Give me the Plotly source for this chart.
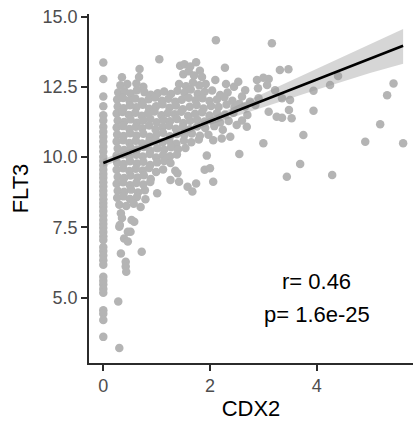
import plotly.graph_objects as go

# ---- expression values (CDX2 vs FLT3), one entry per sample ----
# samples with zero CDX2 expression
cdx2_zero = [0.0] * 47
flt3_zero = [13.36, 12.78, 12.15, 11.81, 11.49, 11.30, 11.08, 10.90, 10.72, 10.55,
             10.37, 10.20, 10.01, 9.86, 9.70, 9.55, 9.40, 9.26, 9.10, 8.95,
             8.80, 8.66, 8.50, 8.36, 8.23, 8.08, 7.92, 7.76, 7.62, 7.48,
             7.33, 7.18, 7.05, 6.80, 6.66, 6.50, 6.33, 6.17, 5.74, 5.60,
             5.46, 5.30, 5.17, 4.55, 4.42, 4.20, 3.60]

# samples with CDX2 expression (main cloud)
cdx2_main = [
    0.32, 0.45, 0.62, 0.75, 1.42, 1.55, 1.68, 1.80, 1.92, 2.30, 2.45,
    0.28, 0.40, 0.51, 0.63, 0.77, 0.89, 1.02, 1.14, 1.27, 1.39, 1.52, 1.64, 1.77, 1.90, 2.04, 2.19, 2.33,
    0.26, 0.37, 0.49, 0.60, 0.72, 0.85, 0.97, 1.10, 1.22, 1.35, 1.47, 1.60, 1.73, 1.86, 1.99, 2.13, 2.27, 2.42,
    0.27, 0.38, 0.50, 0.62, 0.74, 0.86, 0.99, 1.11, 1.24, 1.36, 1.49, 1.62, 1.75, 1.88, 2.02, 2.16, 2.31, 2.46,
    0.25, 0.36, 0.48, 0.60, 0.72, 0.84, 0.96, 1.09, 1.21, 1.34, 1.46, 1.59, 1.72, 1.85, 1.99, 2.13, 2.28, 2.44,
    0.27, 0.39, 0.51, 0.63, 0.75, 0.88, 1.00, 1.13, 1.25, 1.38, 1.50, 1.63, 1.76, 1.90, 2.04, 2.19, 2.35,
    0.25, 0.37, 0.49, 0.61, 0.73, 0.86, 0.98, 1.11, 1.23, 1.36, 1.49, 1.62, 1.76, 1.91, 2.08, 2.24,
    0.26, 0.38, 0.50, 0.62, 0.75, 0.87, 1.00, 1.12, 1.25, 1.38, 1.52, 1.66, 1.81, 1.97,
    0.25, 0.37, 0.49, 0.61, 0.73, 0.86, 0.98, 1.11, 1.24, 1.37, 1.51, 1.65, 1.79,
    0.27, 0.39, 0.51, 0.63, 0.76, 0.88, 1.01, 1.14, 1.27, 1.40, 1.54,
    0.25, 0.37, 0.49, 0.62, 0.74, 0.87, 0.99, 1.12, 1.25, 1.38,
    0.26, 0.38, 0.50, 0.63, 0.75, 0.88, 1.01, 1.14,
    0.25, 0.37, 0.49, 0.61, 0.74, 0.86, 0.99, 1.12,
    0.27, 0.39, 0.51, 0.64, 0.76, 0.89,
    0.25, 0.37, 0.50, 0.62, 0.75, 0.88,
    0.27, 0.39, 0.52, 0.65, 0.78,
    0.26, 0.38, 0.50, 0.63, 0.79,
    0.30, 0.43, 0.57, 0.70,
]
flt3_main = [
    12.55, 12.60, 12.62, 12.50, 12.60, 12.52, 12.65, 12.55, 12.60, 12.60, 12.50,
    12.30, 12.34, 12.26, 12.38, 12.31, 12.22, 12.27, 12.33, 12.24, 12.36, 12.29, 12.40, 12.25, 12.32, 12.37, 12.21, 12.30,
    12.05, 12.10, 12.01, 12.08, 11.98, 12.06, 12.12, 12.00, 12.07, 11.97, 12.04, 12.11, 12.02, 12.09, 11.99, 12.05, 12.13, 12.00,
    11.80, 11.74, 11.84, 11.77, 11.86, 11.72, 11.81, 11.88, 11.75, 11.83, 11.70, 11.79, 11.85, 11.73, 11.82, 11.78, 11.87, 11.76,
    11.55, 11.60, 11.50, 11.58, 11.47, 11.56, 11.62, 11.49, 11.57, 11.52, 11.61, 11.46, 11.54, 11.59, 11.48, 11.56, 11.51, 11.58,
    11.30, 11.25, 11.34, 11.22, 11.31, 11.36, 11.24, 11.32, 11.27, 11.35, 11.21, 11.29, 11.33, 11.26, 11.30, 11.23, 11.28,
    11.05, 11.10, 11.00, 11.08, 11.02, 11.12, 10.98, 11.06, 11.11, 11.01, 11.07, 10.99, 11.09, 11.03, 11.10, 10.97,
    10.80, 10.75, 10.85, 10.77, 10.83, 10.72, 10.81, 10.86, 10.74, 10.82, 10.78, 10.84, 10.76, 10.79,
    10.55, 10.60, 10.50, 10.58, 10.48, 10.56, 10.61, 10.52, 10.57, 10.47, 10.59, 10.53, 10.62,
    10.30, 10.25, 10.34, 10.27, 10.36, 10.22, 10.31, 10.26, 10.35, 10.28, 10.32,
    10.05, 10.10, 10.00, 10.08, 10.02, 10.11, 9.98, 10.06, 10.03, 10.09,
    9.80, 9.75, 9.85, 9.77, 9.83, 9.72, 9.81, 9.86,
    9.55, 9.60, 9.50, 9.58, 9.52, 9.61, 9.47, 9.56,
    9.30, 9.25, 9.34, 9.27, 9.35, 9.22,
    9.05, 9.10, 9.00, 9.08, 9.02, 9.11,
    8.80, 8.76, 8.84, 8.74, 8.82,
    8.55, 8.60, 8.51, 8.58, 8.50,
    8.30, 8.26, 8.34, 8.22,
]

# samples scattered outside the main cloud
cdx2_spread = [
    0.35, 0.67, 0.68, 1.05, 1.44, 1.52, 1.63, 1.74, 1.81, 1.50, 1.60, 1.70, 1.85,
    2.10, 2.28, 2.53, 2.88, 3.00, 3.10, 3.31, 3.47, 2.11, 3.16,
    2.66, 2.90, 3.22, 3.07, 3.94, 4.25, 4.40, 5.44, 5.32, 2.60, 2.91, 3.35, 3.50,
    2.75, 2.55, 2.66, 2.85, 3.10, 3.94, 2.70, 3.25, 3.48, 3.53, 3.35, 2.60, 2.50,
    2.69, 5.19, 2.06, 2.22, 2.38, 3.75, 3.00, 4.91, 5.62, 1.94, 2.55, 3.69,
    1.35, 1.39, 1.90, 2.00, 3.44, 4.29, 1.26, 1.42, 1.74, 2.06, 1.01, 1.58, 1.67, 1.26,
    0.33, 0.35, 0.58, 0.30, 0.51, 0.39, 0.46, 0.33, 0.72, 0.42, 0.42, 0.43,
    0.31, 0.53, 0.46, 0.28, 0.30,
]
flt3_spread = [
    12.84, 12.85, 13.13, 13.48, 13.25, 13.30, 13.22, 13.37, 13.07, 12.95, 13.05, 12.90, 12.85,
    12.74, 13.18, 12.68, 12.74, 12.82, 12.78, 13.10, 13.12, 14.16, 14.05,
    12.38, 12.45, 12.38, 12.56, 12.36, 12.56, 12.88, 12.62, 12.20, 12.15, 12.09, 12.09, 12.03,
    11.97, 11.90, 11.80, 11.85, 11.61, 11.65, 11.50, 11.43, 11.67, 11.38, 11.40, 11.30, 11.14,
    11.08, 11.17, 10.60, 10.66, 10.72, 10.78, 10.49, 10.54, 10.49, 10.05, 10.11, 9.75,
    9.51, 9.42, 9.55, 9.60, 9.30, 9.36, 9.18, 9.12, 9.06, 9.12, 8.71, 8.94, 8.77, 9.79,
    8.00, 7.83, 7.70, 7.52, 7.34, 7.10, 6.99, 6.57, 6.63, 6.27, 6.10, 5.92,
    7.58, 7.76, 7.34, 4.86, 3.20,
]

# linear fit with its confidence band
fit_x = [0.0, 1.0, 2.0, 3.0, 4.0, 5.0, 5.62]
fit_y = [9.79, 10.53, 11.27, 12.02, 12.76, 13.50, 13.96]
fit_lo = [9.65, 10.45, 11.15, 11.78, 12.39, 12.99, 13.32]
fit_hi = [9.93, 10.61, 11.39, 12.26, 13.13, 14.01, 14.56]

stats_lines = ["r= 0.46", "p= 1.6e-25"]

x_ticks = [0, 2, 4]
y_ticks = [5.0, 7.5, 10.0, 12.5, 15.0]

FONT = "Liberation Sans, Arial, sans-serif"
POINT = "#b4b4b4"

fig = go.Figure()

fig.add_trace(go.Scatter(
    x=cdx2_zero + cdx2_main + cdx2_spread,
    y=flt3_zero + flt3_main + flt3_spread,
    mode="markers",
    marker=dict(size=8.5, color=POINT, line=dict(width=0)),
    hoverinfo="x+y",
))

# confidence ribbon drawn as a closed polygon
fig.add_trace(go.Scatter(
    x=fit_x + fit_x[::-1],
    y=fit_hi + fit_lo[::-1],
    mode="lines",
    fill="toself",
    fillcolor="rgba(153,153,153,0.4)",
    line=dict(width=0),
    hoverinfo="skip",
))

fig.add_trace(go.Scatter(
    x=fit_x, y=fit_y, mode="lines",
    line=dict(color="black", width=2.6),
    hoverinfo="skip",
))

for i, txt in enumerate(stats_lines):
    fig.add_annotation(
        x=4.0, y=[5.57, 4.38][i], xref="x", yref="y",
        text=txt, showarrow=False,
        font=dict(family=FONT, size=22, color="black"),
        xanchor="center", yanchor="middle",
    )

axis_common = dict(
    showgrid=False, zeroline=False,
    showline=True, linecolor="#2b2b2b", linewidth=1.5,
    ticks="outside", ticklen=6, tickwidth=1.5, tickcolor="#2b2b2b",
    tickfont=dict(family=FONT, size=18, color="#4d4d4d"),
)

fig.update_xaxes(
    range=[-0.268, 5.805], tickvals=x_ticks,
    title=dict(text="CDX2", font=dict(family=FONT, size=22, color="black"), standoff=6),
    **axis_common,
)
fig.update_yaxes(
    range=[2.67, 15.09], tickvals=y_ticks, tickformat=".1f",
    title=dict(text="FLT3", font=dict(family=FONT, size=22, color="black"), standoff=8),
    **axis_common,
)

fig.update_layout(
    width=413, height=421,
    margin=dict(l=89, r=0, t=14, b=58),
    paper_bgcolor="white", plot_bgcolor="white",
    showlegend=False,
)

fig.write_html("out.html")
